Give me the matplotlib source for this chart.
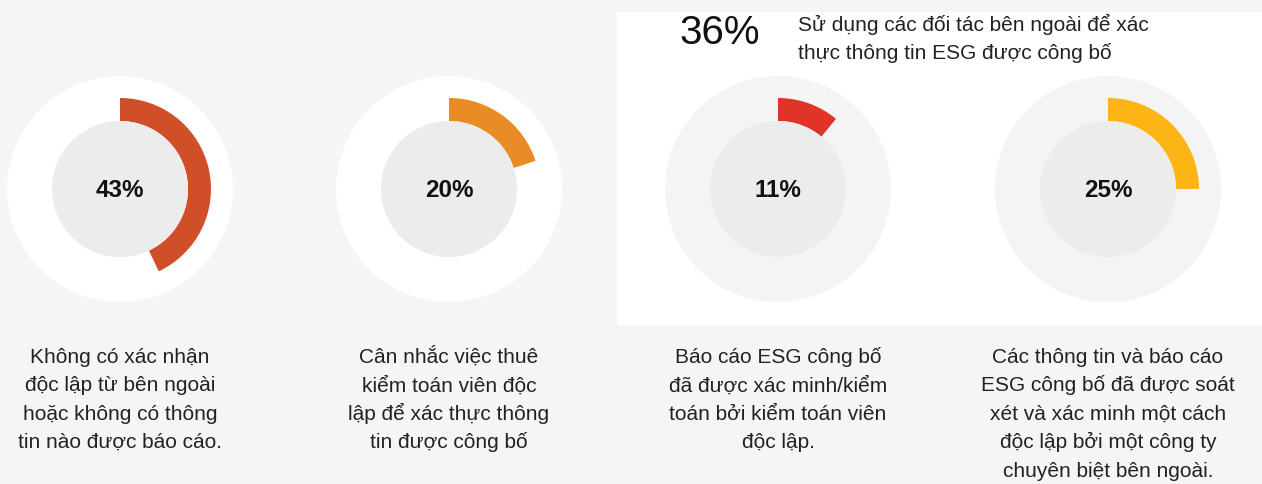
import matplotlib
matplotlib.use("Agg")
import matplotlib.pyplot as plt
from matplotlib.patches import Wedge, Circle, Rectangle

plt.rcParams['font.family'] = ['Liberation Sans', 'DejaVu Sans']

values = [43, 20, 11, 25]
value_labels = ["43%", "20%", "11%", "25%"]
colors = ["#d04f28", "#ea8c25", "#e03426", "#fdb515"]
descriptions = [
    ["Không có xác nhận", "độc lập từ bên ngoài", "hoặc không có thông", "tin nào được báo cáo."],
    ["Cân nhắc việc thuê", "kiểm toán viên độc", "lập để xác thực thông", "tin được công bố"],
    ["Báo cáo ESG công bố", "đã được xác minh/kiểm", "toán bởi kiểm toán viên", "độc lập."],
    ["Các thông tin và báo cáo", "ESG công bố đã được soát", "xét và xác minh một cách",
     "độc lập bởi một công ty", "chuyên biệt bên ngoài."],
]
header_value = "36%"
header_lines = ["Sử dụng các đối tác bên ngoài để xác", "thực thông tin ESG được công bố"]

W, H = 1262, 485
fig = plt.figure(figsize=(W / 100, H / 100), dpi=100)
fig.patch.set_facecolor("#f5f5f5")
ax = fig.add_axes([0, 0, 1, 1])
ax.set_xlim(0, W)
ax.set_ylim(H, 0)
ax.set_aspect("equal")
ax.axis("off")

# white panel on the right
ax.add_patch(Rectangle((617, 13), W - 617, 313, facecolor="white", edgecolor="none", zorder=0))

centers_x = [120, 449, 778, 1108]
cy = 190
r_outer_disk = 113
r_arc = 91
r_inner = 68
disk_colors = ["white", "white", "#f4f4f4", "#f4f4f4"]
first_baseline = 363
line_step = 28.4

for cx, v, lab, col, desc, dc in zip(centers_x, values, value_labels, colors, descriptions, disk_colors):
    ax.add_patch(Circle((cx, cy), r_outer_disk, facecolor=dc, edgecolor="none", zorder=1))
    # y axis inverted: counter-clockwise in data coords appears clockwise on screen
    theta1 = -90
    theta2 = -90 + 360 * v / 100
    ax.add_patch(Wedge((cx, cy), r_arc, theta1, theta2, width=r_arc - r_inner,
                       facecolor=col, edgecolor="none", zorder=2))
    ax.add_patch(Circle((cx, cy), r_inner, facecolor="#ececec", edgecolor="none", zorder=3))
    ax.text(cx, cy + 1, lab, ha="center", va="center", fontsize=17.5, fontweight="bold",
            color="#111111", zorder=4)
    for i, line in enumerate(desc):
        ax.text(cx, first_baseline + i * line_step, line, ha="center", va="baseline",
                fontsize=15, color="#222222", zorder=4)

ax.text(679, 44, header_value, ha="left", va="baseline", fontsize=29, color="#111111", zorder=4)
for i, line in enumerate(header_lines):
    ax.text(798, 31 + i * 28, line, ha="left", va="baseline", fontsize=15,
            color="#222222", zorder=4)

fig.savefig("out.png", dpi=100, facecolor=fig.get_facecolor())
